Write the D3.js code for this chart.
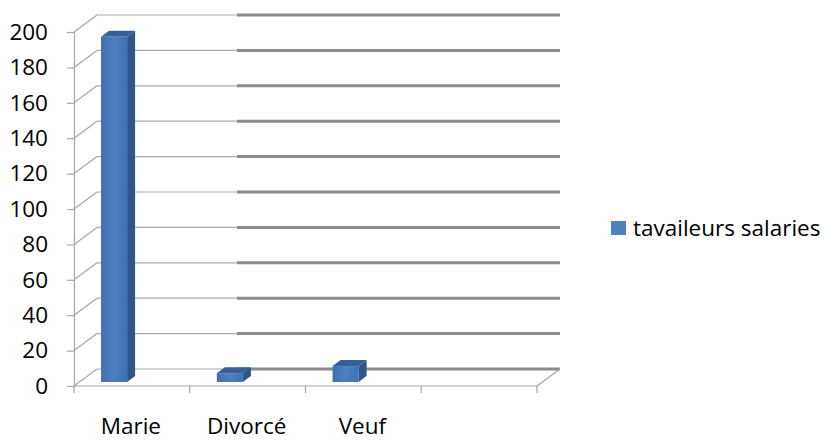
<!DOCTYPE html>
<html>
<head>
<meta charset="utf-8">
<script src="https://cdn.jsdelivr.net/npm/d3@7"></script>
<style>
  html, body { margin: 0; padding: 0; background: #fff; }
  svg { display: block; }
  text { font-family: "Open Sans", Lato, sans-serif; fill: #000; }
</style>
</head>
<body>
<svg id="chart" width="827" height="441"></svg>
<script>
// Data
const categories = ["Marie", "Divorcé", "Veuf", ""];
const values = [195, 5, 9, null];
const yTicks = [0, 20, 40, 60, 80, 100, 120, 140, 160, 180, 200];
const seriesName = "tavaileurs salaries";

const FONT = "22.5px";
const svg = d3.select("#chart");

// Front plane scales
const x = d3.scaleBand().domain(categories).range([74, 537]).paddingInner(0).paddingOuter(0);
const y = d3.scaleLinear().domain([0, 200]).range([386, 32]);

// 3D depth of the plot box
const DX = 23, DY = -17;
const left = 74, right = 537;

// Back wall gridlines (thin segment then heavier segment) and side wall diagonals
const grid = svg.append("g");
yTicks.forEach(t => {
  const yy = y(t) + DY;
  grid.append("line")
    .attr("x1", left + DX).attr("x2", 237)
    .attr("y1", yy).attr("y2", yy)
    .attr("stroke", "#aaaaaa").attr("stroke-width", 1.2);
  grid.append("line")
    .attr("x1", 237).attr("x2", right + DX)
    .attr("y1", yy).attr("y2", yy)
    .attr("stroke", "#8c8c8c").attr("stroke-width", 3);
  grid.append("line")
    .attr("x1", left).attr("y1", y(t))
    .attr("x2", left + DX).attr("y2", y(t) + DY)
    .attr("stroke", "#a6a6a6").attr("stroke-width", 1.2);
});

// Floor right edge
svg.append("line")
  .attr("x1", right).attr("y1", y(0))
  .attr("x2", right + DX).attr("y2", y(0) + DY)
  .attr("stroke", "#a6a6a6").attr("stroke-width", 1.2);

// Bars (3D columns)
const bw = x.bandwidth();
const f = 0.235;             // depth plane of the columns
const bDX = 8, bDY = -6;     // column depth
const grad = svg.append("defs").append("linearGradient")
  .attr("id", "front").attr("x1", "0").attr("x2", "1").attr("y1", "0").attr("y2", "0");
grad.append("stop").attr("offset", "0").attr("stop-color", "#3f6fae");
grad.append("stop").attr("offset", "0.5").attr("stop-color", "#4e80c2");
grad.append("stop").attr("offset", "1").attr("stop-color", "#3f70b0");

const bars = svg.append("g");
categories.forEach((c, i) => {
  const v = values[i];
  if (v == null) return;
  const x0 = x(c) + bw * 0.187 + f * DX;
  const w = bw * 0.225;
  const yb = y(0) + f * DY;
  const yt = y(v) + f * DY;
  bars.append("path")
    .attr("d", `M${x0 + w},${yt} L${x0 + w + bDX},${yt + bDY} L${x0 + w + bDX},${yb + bDY} L${x0 + w},${yb} Z`)
    .attr("fill", "#2e548a");
  bars.append("path")
    .attr("d", `M${x0},${yt} L${x0 + bDX},${yt + bDY} L${x0 + w + bDX},${yt + bDY} L${x0 + w},${yt} Z`)
    .attr("fill", "#365f98");
  bars.append("rect")
    .attr("x", x0).attr("y", yt)
    .attr("width", w).attr("height", yb - yt)
    .attr("fill", "url(#front)");
});

// Front Y axis
const yAxis = d3.axisLeft(y).tickValues(yTicks).tickSize(7).tickPadding(19);
const gy = svg.append("g").attr("transform", `translate(${left},0)`).call(yAxis);
gy.select(".domain").attr("stroke", "#a6a6a6").attr("stroke-width", 1.2);
gy.selectAll(".tick line").attr("stroke", "#a6a6a6").attr("stroke-width", 1.2);
gy.selectAll(".tick text").style("font-size", FONT).style("font-family", "'Open Sans', Lato, sans-serif").attr("fill", "#000");

// Front X axis (floor edge)
const gx = svg.append("g").attr("transform", `translate(0,${y(0)})`);
gx.append("line").attr("x1", left).attr("x2", right).attr("y1", 0).attr("y2", 0)
  .attr("stroke", "#a6a6a6").attr("stroke-width", 1.2);
const tickXs = categories.map(c => x(c)).concat([right]);
gx.selectAll("line.tk").data(tickXs).join("line").attr("class", "tk")
  .attr("x1", d => d).attr("x2", d => d).attr("y1", 0).attr("y2", 7)
  .attr("stroke", "#a6a6a6").attr("stroke-width", 1.2);
gx.selectAll("text").data(categories).join("text")
  .attr("x", c => x(c) + bw / 2 - 1)
  .attr("y", 48)
  .attr("text-anchor", "middle")
  .style("font-size", FONT)
  .text(c => c);

// Legend
const lg = svg.append("g").attr("transform", "translate(611,221)");
lg.append("rect").attr("width", 15).attr("height", 14).attr("fill", "#4f81bd");
lg.append("text").attr("x", 22).attr("y", 14.5).style("font-size", FONT).text(seriesName);
</script>
</body>
</html>
